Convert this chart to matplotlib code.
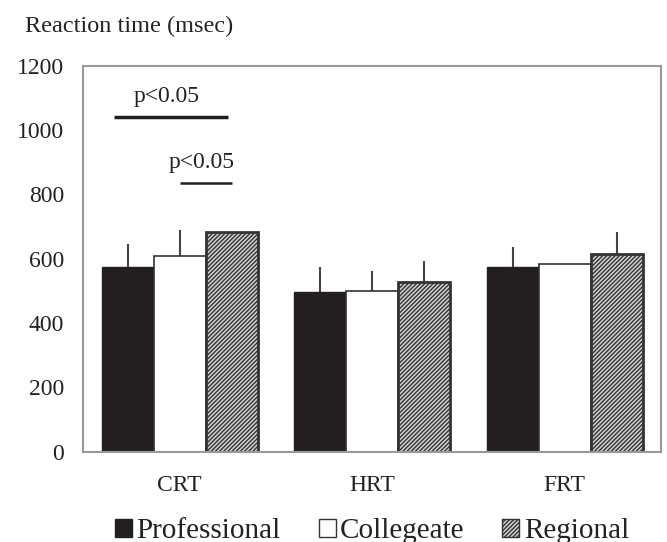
import matplotlib
matplotlib.use("Agg")
import matplotlib.pyplot as plt
from matplotlib.patches import Patch
import numpy as np

categories = ["CRT", "HRT", "FRT"]
groups = ["Professional", "Collegeate", "Regional"]
professional = [573, 495, 573]
collegeate = [608, 500, 583]
regional = [683, 527, 614]
professional_err = [73, 78, 64]
collegeate_err = [81, 62, 0]
regional_err = [0, 66, 70]
yticks = [0, 200, 400, 600, 800, 1000, 1200]

plt.rcParams['font.family'] = ['Liberation Serif', 'DejaVu Serif']
plt.rcParams['hatch.linewidth'] = 1.0
plt.rcParams['hatch.color'] = '#222222'

fig = plt.figure(figsize=(6.67, 5.42), dpi=100)
ax = fig.add_axes([0.125, 0.1666, 0.866, 0.7122])

x = np.arange(len(categories))
w = 0.27
vals = [professional, collegeate, regional]
errs = [professional_err, collegeate_err, regional_err]
faces = ['#231f20', 'white', '#d0d0d0']
edges = ['#231f20', '#333333', '#333333']
hatches = [None, None, '////////']
lws = [1.0, 1.2, 2.0]
for i in range(3):
    pos = x + (i - 1) * w
    ax.bar(pos, vals[i], width=w, color=faces[i], edgecolor=edges[i],
           hatch=hatches[i], linewidth=lws[i], zorder=2)
    e = np.array(errs[i])
    ax.vlines(pos[e > 0], np.array(vals[i])[e > 0], (np.array(vals[i]) + e)[e > 0],
              color='#444444', linewidth=1.5, zorder=1)

ax.set_xlim(-0.5, 2.5)
ax.set_ylim(0, 1200)
ax.set_yticks(yticks)
ax.set_xticks(x)
ax.set_xticklabels(categories)
ax.tick_params(axis='both', length=0, labelsize=17, colors='#222222')
ax.tick_params(axis='y', pad=14)
ax.tick_params(axis='x', pad=17)
for s in ax.spines.values():
    s.set_color('#999999')
    s.set_linewidth(1.5)

# significance annotations
ax.plot([-0.34, 0.25], [1039, 1039], color='#231f20', linewidth=2.5, solid_capstyle='butt')
ax.text(-0.067, 1103, 'p<0.05', ha='center', va='center', fontsize=17, color='#222222')
ax.plot([0.002, 0.27], [836, 836], color='#231f20', linewidth=1.8, solid_capstyle='butt')
ax.text(0.115, 898, 'p<0.05', ha='center', va='center', fontsize=17, color='#222222')

fig.text(0.037, 0.952, 'Reaction time (msec)', fontsize=17.5, color='#222222', va='center', ha='left')

handles = [Patch(facecolor=faces[i], edgecolor=edges[i], hatch=hatches[i], linewidth=1.0)
           for i in range(3)]
fig.legend(handles, groups, loc='center', bbox_to_anchor=(0.558, 0.02), ncol=3,
           frameon=False, fontsize=21, handlelength=0.58, handleheight=0.58,
           handletextpad=0.15, columnspacing=1.3, labelcolor='#222222')

fig.savefig('out.png', dpi=100)
